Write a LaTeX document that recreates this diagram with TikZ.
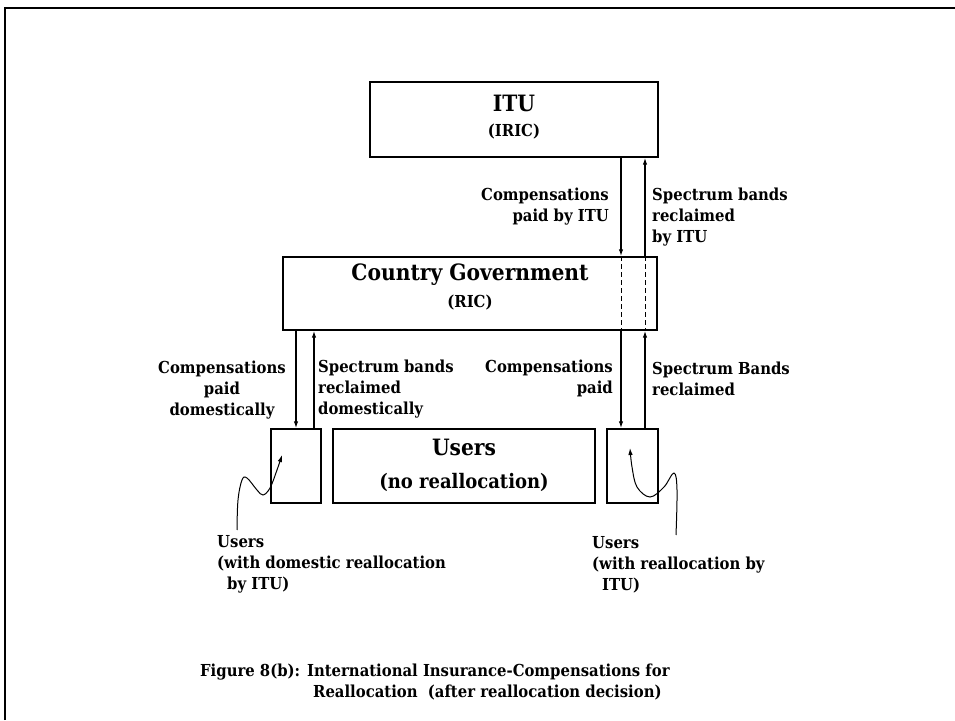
\documentclass[tikz,border=0pt]{standalone}
\usepackage{fontspec}
\setmainfont{DejaVu Serif Condensed}
\usetikzlibrary{arrows.meta}

\tikzset{
	box/.style={draw, line width=1.4pt, inner sep=0pt},
	lbl/.style={inner sep=0pt, font=\bfseries\fontsize{16.5}{21}\selectfont},
	big/.style={inner sep=0pt, font=\bfseries\fontsize{22.5}{26}\selectfont},
	flow/.style={line width=1.3pt, -{Latex[length=7pt,width=4.5pt]}},
	wiggle/.style={line width=1pt, -{Latex[length=7pt,width=4.5pt]}}
}

\begin{document}
\begin{tikzpicture}[x=1pt, y=1pt]
	\useasboundingbox (0,0) rectangle (955,720);
	% page frame (top and left only)
	\draw[line width=2.5pt] (5,0) -- (5,712) -- (956,712);

	% boxes
	\node[box, minimum width=288pt, minimum height=75pt] (itu) at (514,600.5) {};
	\node[big] (itut) at (514,617) {ITU};
	\node[lbl] (iric) at (514,588) {(IRIC)};

	\node[box, minimum width=374pt, minimum height=73pt] (gov) at (470,426.5) {};
	\node[big] (govt) at (470,445) {Country Government};
	\node[lbl] (ric) at (470,417) {(RIC)};

	\node[box, minimum width=50pt, minimum height=74pt] (udom) at (296,254) {};
	\node[box, minimum width=262pt, minimum height=74pt] (unone) at (464,254) {};
	\node[big] (usert) at (464,273) {Users};
	\node[big, font=\bfseries\fontsize{20}{24}\selectfont] (norea) at (464,238) {(no reallocation)};
	\node[box, minimum width=51pt, minimum height=74pt] (uitu) at (632.5,254) {};

	% x positions of the arrows
	\coordinate (xa) at (296,0);
	\coordinate (xb) at (314,0);
	\coordinate (xc) at (621,0);
	\coordinate (xd) at (645,0);

	% ITU <-> government
	\draw[flow] (itu.south -| xc) -- (gov.north -| xc);
	\draw[flow] (gov.north -| xd) -- (itu.south -| xd);
	\draw[line width=1pt, dash pattern=on 5pt off 3pt] (gov.north -| xc) -- (gov.south -| xc);
	\draw[line width=1pt, dash pattern=on 5pt off 3pt] (gov.north -| xd) -- (gov.south -| xd);
	\node[lbl, anchor=east, align=right] (cpitu) at (609,513.5) {Compensations\\paid by ITU};
	\node[lbl, anchor=west, align=left] (sbitu) at (652,503) {Spectrum bands\\reclaimed\\by ITU};

	% government <-> users
	\draw[flow] (gov.south -| xa) -- (udom.north -| xa);
	\draw[flow] (udom.north -| xb) -- (gov.south -| xb);
	\draw[flow] (gov.south -| xc) -- (uitu.north -| xc);
	\draw[flow] (uitu.north -| xd) -- (gov.south -| xd);
	\node[lbl, align=center] (cpdom) at (222,330) {Compensations\\paid\\domestically};
	\node[lbl, anchor=west, align=left] (sbdom) at (318,331) {Spectrum bands\\reclaimed\\domestically};
	\node[lbl, anchor=east, align=right] (cpd) at (613,341.5) {Compensations\\paid};
	\node[lbl, anchor=west, align=left] (sbr) at (652,341.5) {Spectrum Bands\\reclaimed};

	% user notes
	\node[lbl, anchor=west, align=left] (ndom) at (217,155.5) {Users\\(with domestic reallocation\\\hspace*{10pt}by ITU)};
	\node[lbl, anchor=west, align=left] (nitu) at (592,155.5) {Users\\(with reallocation by\\\hspace*{10pt}ITU)};
	\coordinate (wl) at (237,190);
	\coordinate (wr) at (676,185);
	\draw[wiggle] plot[smooth, tension=0.6] coordinates {(wl) (238,220) (242,240) (247,242) (257,230) (263,225) (270,232) (277,250) (282,265)};
	\draw[wiggle] plot[smooth, tension=0.6] coordinates {(wr) (677,230) (674,247) (664,233) (650,223) (637,233) (632,253) (630,272)};

	% caption
	\node[lbl, anchor=west, align=left] (cap) at (200,37.5) {Figure 8(b): International Insurance-Compensations for\\\hspace*{113pt}Reallocation~~(after reallocation decision)};
\end{tikzpicture}
\end{document}
